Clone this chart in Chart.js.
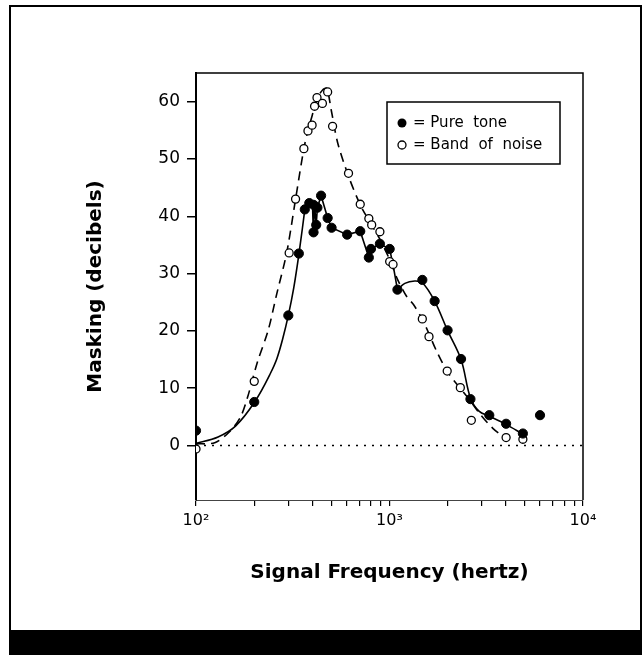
<!DOCTYPE html>
<html lang="en">
<head>
    <meta charset="UTF-8">
    <title>Masking vs Signal Frequency</title>
    <script src="https://cdn.jsdelivr.net/npm/chart.js"></script>
    <style>
        body { margin: 0; background: #fff; }
        .frame {
            position: absolute; left: 9px; top: 5px;
            width: 629px; height: 627px;
            border: 2px solid #000; border-bottom: none;
        }
        .bar {
            position: absolute; left: 9px; top: 630px;
            width: 633px; height: 25px; background: #000;
        }
        .chart-box { position: absolute; left: 0; top: 0; width: 642px; height: 655px; }
    </style>
</head>
<body>

<div class="frame"></div>
<div class="bar"></div>
<div class="chart-box"><canvas id="maskingChart"></canvas></div>

<script>
    const toneFreq = [100, 200, 300, 340, 365, 385, 405, 405, 418, 424, 443, 479, 502, 604, 706, 782, 802, 892, 1002, 1099, 1478, 1711, 1996, 2343, 2620, 3279, 4005, 4890, 5996];
    const toneDb   = [2.6, 7.6, 22.7, 33.5, 41.2, 42.3, 42.0, 37.2, 38.5, 41.5, 43.6, 39.7, 38.0, 36.8, 37.4, 32.8, 34.3, 35.2, 34.3, 27.2, 28.9, 25.2, 20.1, 15.1, 8.1, 5.3, 3.8, 2.1, 5.3];

    const noiseFreq = [100, 200, 303, 327, 361, 379, 398, 410, 422, 450, 479, 508, 614, 706, 782, 809, 892, 1002, 1043, 1478, 1600, 1987, 2323, 2648, 4005, 4890];
    const noiseDb   = [-0.6, 11.2, 33.6, 43.0, 51.8, 54.9, 55.9, 59.2, 60.7, 59.7, 61.7, 55.7, 47.5, 42.1, 39.6, 38.5, 37.3, 32.1, 31.6, 22.1, 19.0, 13.0, 10.1, 4.4, 1.4, 1.1];

    // Solid curve (pure tone) in three pieces
    const toneRiseFreq = [100, 130, 160, 200, 240, 262, 280, 300, 320, 340, 355, 365];
    const toneRiseDb   = [0.4, 1.5, 3.4, 7.5, 12.3, 15.2, 18.5, 22.7, 27.5, 33.3, 38.0, 41.2];
    const toneMidFreq  = [365, 385, 400, 404, 410, 418, 424, 443, 479, 502, 604, 706, 782, 802, 892, 1002, 1050, 1099];
    const toneMidDb    = [41.2, 42.3, 42.0, 37.2, 41.8, 38.5, 41.5, 43.6, 39.7, 38.0, 36.8, 37.4, 32.8, 34.3, 35.2, 34.3, 31.0, 27.2];
    const toneFallFreq = [1099, 1200, 1350, 1480, 1711, 2000, 2343, 2620, 2900, 3280, 4000, 4890];
    const toneFallDb   = [27.2, 28.3, 28.7, 28.4, 25.2, 20.0, 15.0, 8.3, 6.0, 5.1, 3.7, 2.0];

    // Dashed curve (band of noise)
    const noiseCurveFreq = [100, 125, 150, 170, 185, 207, 236, 262, 289, 303, 327, 361, 379, 398, 422, 450, 474, 500, 540, 614, 706, 782, 892, 1000, 1100, 1227, 1330, 1478, 1600, 1750, 2000, 2320, 2550, 2920, 3420, 4000];
    const noiseCurveDb   = [0.3, 0.5, 2.5, 5.0, 8.5, 14.4, 20.1, 26.6, 32.4, 36.0, 43.0, 51.8, 55.0, 57.5, 60.5, 62.0, 62.3, 58.5, 52.8, 47.0, 42.0, 39.3, 36.0, 32.5, 29.0, 26.0, 24.6, 22.0, 19.5, 16.5, 12.8, 10.0, 8.3, 5.6, 3.0, 1.2];

    // Zero reference line
    const zeroFreq = [100, 10000];
    const zeroDb = [0, 0];

    // Axis ticks
    const xTickVals = [100, 200, 300, 400, 500, 600, 700, 800, 900, 1000, 2000, 3000, 4000, 5000, 6000, 7000, 8000, 9000, 10000];
    const xTickLabels = { 100: '10²', 1000: '10³', 10000: '10⁴' };
    const yTickVals = [0, 10, 20, 30, 40, 50, 60];

    const legendItems = ['= Pure  tone', '= Band  of  noise'];

    function pts(xs, ys) {
        return xs.map((x, i) => ({ x: x, y: ys[i] }));
    }

    // draws the top/right frame and the legend box inside the plot
    const framePlugin = {
        id: 'framePlugin',
        afterDraw(chart) {
            const ctx = chart.ctx;
            const a = chart.chartArea;
            ctx.save();
            ctx.strokeStyle = '#000';
            ctx.lineWidth = 1.5;
            ctx.beginPath();
            ctx.moveTo(a.left, a.top);
            ctx.lineTo(a.right, a.top);
            ctx.lineTo(a.right, a.bottom);
            ctx.stroke();

            // legend
            const bx = a.left + 191, by = a.top + 29, bw = 173, bh = 62;
            ctx.fillStyle = '#fff';
            ctx.fillRect(bx, by, bw, bh);
            ctx.strokeRect(bx, by, bw, bh);
            ctx.font = '15px "DejaVu Sans"';
            ctx.textBaseline = 'middle';
            ctx.fillStyle = '#000';
            const rows = [by + 21, by + 43];
            ctx.beginPath();
            ctx.arc(bx + 15, rows[0], 4.5, 0, Math.PI * 2);
            ctx.fill();
            ctx.beginPath();
            ctx.arc(bx + 15, rows[1], 4, 0, Math.PI * 2);
            ctx.lineWidth = 1.3;
            ctx.stroke();
            ctx.fillText(legendItems[0], bx + 26, rows[0]);
            ctx.fillText(legendItems[1], bx + 26, rows[1]);
            ctx.restore();
        }
    };

    const ctx = document.getElementById('maskingChart').getContext('2d');
    new Chart(ctx, {
        type: 'scatter',
        data: {
            datasets: [
                {
                    label: 'Pure tone',
                    data: pts(toneFreq, toneDb),
                    pointRadius: 4.6,
                    pointBackgroundColor: '#000',
                    pointBorderColor: '#000',
                    showLine: false
                },
                {
                    label: 'Band of noise',
                    data: pts(noiseFreq, noiseDb),
                    pointRadius: 4,
                    pointBackgroundColor: '#fff',
                    pointBorderColor: '#000',
                    pointBorderWidth: 1.3,
                    showLine: false
                },
                {
                    data: pts(toneRiseFreq, toneRiseDb),
                    showLine: true, pointRadius: 0,
                    borderColor: '#000', borderWidth: 1.6,
                    cubicInterpolationMode: 'monotone'
                },
                {
                    data: pts(toneMidFreq, toneMidDb),
                    showLine: true, pointRadius: 0,
                    borderColor: '#000', borderWidth: 1.6,
                    tension: 0
                },
                {
                    data: pts(toneFallFreq, toneFallDb),
                    showLine: true, pointRadius: 0,
                    borderColor: '#000', borderWidth: 1.6,
                    tension: 0.35
                },
                {
                    data: pts(noiseCurveFreq, noiseCurveDb),
                    showLine: true, pointRadius: 0,
                    borderColor: '#000', borderWidth: 1.6,
                    borderDash: [9, 6],
                    tension: 0.3
                },
                {
                    data: pts(zeroFreq, zeroDb),
                    showLine: true, pointRadius: 0,
                    borderColor: '#000', borderWidth: 1.5,
                    borderDash: [2, 6]
                }
            ]
        },
        options: {
            responsive: true,
            maintainAspectRatio: false,
            animation: false,
            layout: { padding: { left: 84, top: 73, right: 59, bottom: 70 } },
            scales: {
                x: {
                    type: 'logarithmic',
                    min: 100,
                    max: 10000,
                    afterBuildTicks: (scale) => { scale.ticks = xTickVals.map(v => ({ value: v })); },
                    afterFit: (scale) => { scale.height = 85; },
                    ticks: {
                        autoSkip: false,
                        maxRotation: 0,
                        padding: 5,
                        color: '#000',
                        font: { family: '"DejaVu Sans"', size: 16 },
                        callback: (v) => xTickLabels[v] || ''
                    },
                    grid: { drawOnChartArea: false, drawTicks: true, tickLength: 6, color: '#000', lineWidth: 1.2 },
                    border: { display: true, color: '#444', width: 1 },
                    title: {
                        display: true,
                        text: 'Signal Frequency (hertz)',
                        color: '#000',
                        padding: 0,
                        font: { family: '"DejaVu Sans"', size: 20, weight: 'bold' }
                    }
                },
                y: {
                    min: -9.5,
                    max: 65,
                    afterBuildTicks: (scale) => { scale.ticks = yTickVals.map(v => ({ value: v })); },
                    afterFit: (scale) => { scale.width = 112; },
                    ticks: {
                        padding: 7,
                        color: '#000',
                        font: { family: '"DejaVu Sans"', size: 17 }
                    },
                    grid: { drawOnChartArea: false, drawTicks: true, tickLength: 9, color: '#000', lineWidth: 1.5 },
                    border: { display: true, color: '#000', width: 2 },
                    title: {
                        display: true,
                        text: 'Masking (decibels)',
                        color: '#000',
                        padding: 0,
                        font: { family: '"DejaVu Sans"', size: 20, weight: 'bold' }
                    }
                }
            },
            plugins: {
                legend: { display: false },
                tooltip: { enabled: false }
            }
        },
        plugins: [framePlugin]
    });
</script>

</body>
</html>
